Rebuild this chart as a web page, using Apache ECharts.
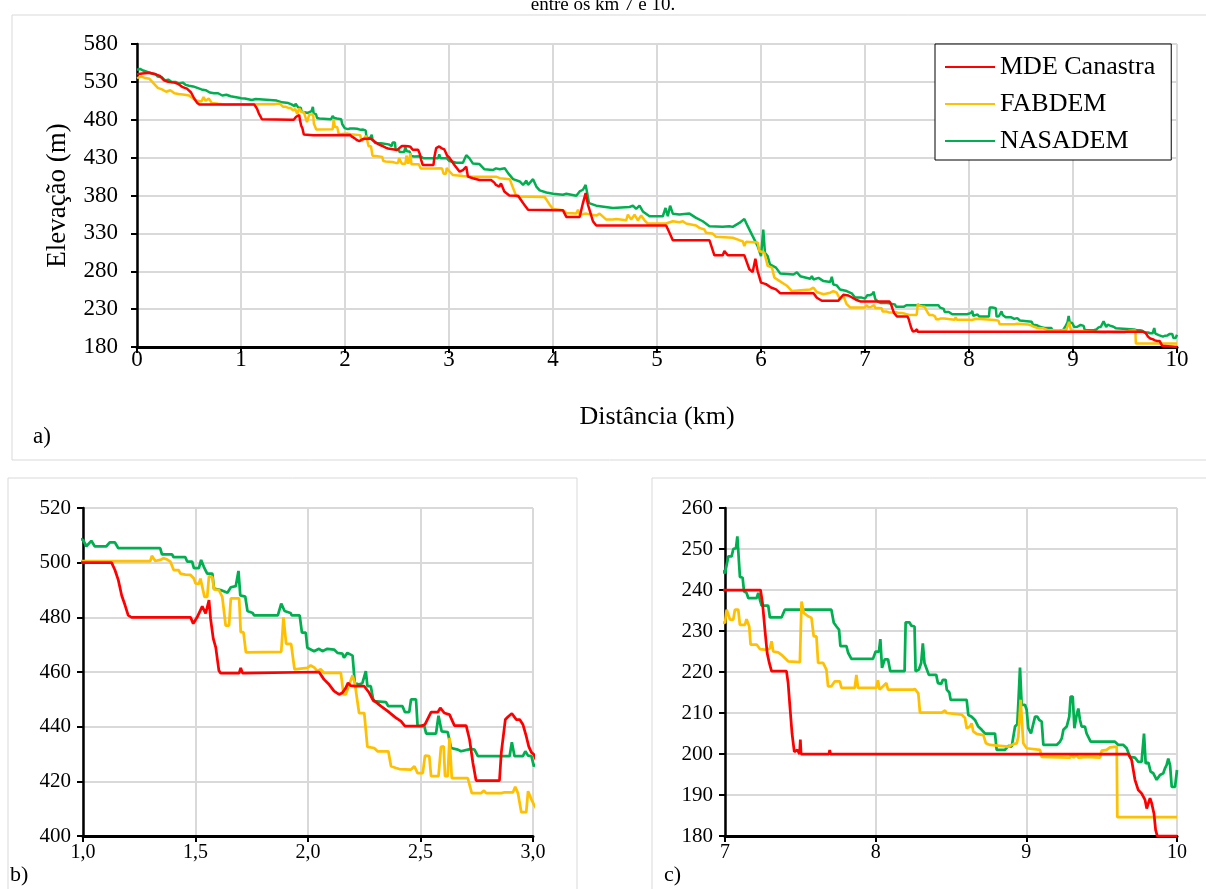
<!DOCTYPE html>
<html>
<head>
<meta charset="utf-8">
<script src="https://cdn.jsdelivr.net/npm/echarts@6/dist/echarts.min.js"></script>
<style>
  html, body { margin: 0; padding: 0; background: #fff; }
  #perfil { width: 1206px; height: 889px; }
</style>
</head>
<body>
<div id="perfil"></div>
<script>
// perfis de elevação [distância km, elevação m]
const mdeCanastra = [
  [0,540],[0.05,541],[0.12,542],[0.18,540],[0.22,538],[0.26,532],[0.3,530],[0.36,529],[0.4,527],[0.44,523],[0.48,521],[0.52,516],[0.55,508],[0.58,502],[0.6,500],[0.66,500],[0.67,502],[0.68,500],
  [1.127,500],[1.142,497.3],[1.157,493.6],[1.172,488],[1.187,484.4],[1.201,480.7],[1.216,480],[1.478,480],[1.49,477.7],[1.507,480],[1.53,484],[1.545,481.4],[1.56,486.3],[1.567,479.5],[1.579,472.2],[1.59,469],[1.604,460.5],[1.612,459.6],[1.694,459.6],[1.701,461.5],[1.709,459.6],
  [2.049,460],[2.071,457.3],[2.094,455.4],[2.116,453],[2.138,451.8],[2.153,452.4],[2.168,454.2],[2.178,456],[2.19,455],[2.212,454.8],[2.25,454.8],[2.272,452.4],[2.287,450],[2.324,447.5],[2.354,445.7],[2.391,443.2],[2.413,442],[2.431,440.2],[2.502,440.2],[2.52,440.8],[2.547,445.3],[2.577,445.3],[2.588,446.9],[2.606,445],[2.629,444.4],[2.651,440.4],[2.703,440.4],[2.718,435.3],[2.733,426.7],[2.747,420.3],[2.851,420.3],[2.859,430.4],[2.877,442.6],[2.889,443.6],[2.906,444.8],[2.926,442.6],[2.941,442.6],[2.955,440.8],[2.97,436.5],[2.981,432.8],[2.993,430.6],[3.004,429.8],
  [3.054,420],[3.102,411.4],[3.134,413.6],[3.166,418],[3.182,404.9],[3.229,402.7],[3.293,400.5],[3.404,400.5],[3.436,397],[3.452,394],[3.484,391.8],[3.5,396],[3.532,385.2],[3.58,380],[3.664,379.7],[3.712,370],[3.76,361.3],[4.096,360.4],[4.128,351.7],[4.256,351.7],[4.288,370],[4.314,383.2],[4.336,368],[4.384,346],[4.416,340.3],
  [5.088,340.3],[5.12,330.7],[5.152,321],[5.504,321],[5.552,301],[5.632,301],[5.648,306.7],[5.68,301],[5.84,301],[5.888,282.6],[5.92,279],[5.946,296.6],[5.968,280],[6.0,265],[6.048,263],[6.096,258.5],[6.144,256],[6.185,251],[6.505,251],[6.537,245],[6.585,241],[6.744,241],[6.76,244],[6.792,249],[6.84,248],[6.88,245],[6.92,242],[6.96,240],
  [7.236,240],[7.249,236.8],[7.265,230.3],[7.28,224.6],[7.294,222.2],[7.309,220.2],[7.408,220.2],[7.419,217.3],[7.43,212],[7.445,205],[7.46,200.5],[7.48,201],[7.495,200],[7.5,203.5],[7.505,200],[7.69,200],[7.695,201],[7.7,200],
  [9.677,200],[9.699,198.5],[9.721,193.7],[9.743,191.2],[9.765,190.4],[9.788,188.8],[9.799,186.7],[9.81,188],[9.821,189.2],[9.832,188],[9.847,185.5],[9.858,181.5],[9.869,180],[10,180]
];

const fabdem = [
  [0,535],[0.04,537],[0.08,535],[0.12,534],[0.16,528],[0.2,522],[0.24,520],[0.28,517],[0.32,519],[0.36,515],[0.4,514],[0.46,513],[0.5,512],[0.54,508],[0.58,505],[0.62,504],[0.64,510],[0.66,505],[0.69,508],[0.72,502],[0.78,501],[0.85,500],
  [1.0,500.6],[1.299,500.6],[1.306,502.5],[1.321,500.6],[1.343,501],[1.358,501.6],[1.373,501.2],[1.388,500.4],[1.403,497.3],[1.425,497.3],[1.433,496],[1.455,495.6],[1.478,495.5],[1.493,494.2],[1.5,492.4],[1.515,492.2],[1.522,494.2],[1.53,494.6],[1.54,487.5],[1.552,487.5],[1.56,495],[1.575,494.7],[1.582,490.2],[1.604,490],[1.619,487.5],[1.634,477],[1.649,477],[1.657,486.9],[1.694,486.9],[1.701,474.6],[1.713,474.6],[1.724,467.2],[1.881,467.4],[1.891,480],[1.903,470.3],[1.925,470.3],[1.94,461],[1.997,461.5],
  [2.012,462.4],[2.027,461.7],[2.042,460.3],[2.056,461],[2.071,459.7],[2.146,459.7],[2.158,451.8],[2.168,451.8],[2.183,455.4],[2.198,458.7],[2.208,456],[2.227,445],[2.25,445],[2.264,432.6],[2.294,432.2],[2.309,431],[2.357,431],[2.369,425.5],[2.391,424.9],[2.406,424.5],[2.458,424.3],[2.473,425.5],[2.487,423],[2.51,423],[2.52,429.4],[2.539,429.2],[2.547,421.9],[2.58,421.9],[2.591,432.6],[2.603,432.8],[2.609,421.9],[2.621,421.9],[2.629,435.9],[2.639,421.2],[2.71,421.2],[2.728,415.7],[2.77,415.7],[2.782,416.6],[2.792,415.7],[2.859,415.7],[2.874,416],[2.911,416],[2.921,418],[2.933,415.7],[2.941,415],[2.948,408.7],[2.97,408.7],[2.978,416.4],[2.993,413.4],[3.004,411.5],
  [3.038,407],[3.134,405.7],[3.229,404.9],[3.452,404.9],[3.488,402.9],[3.584,401.6],[3.616,389.8],[3.648,378.8],[3.92,378],[3.968,367.9],[4.0,362.2],[4.096,360.4],[4.128,357],[4.224,356.1],[4.24,361.3],[4.256,354.8],[4.32,356.1],[4.416,353.5],[4.448,356.1],[4.512,348.2],[4.576,348.2],[4.608,349.1],[4.704,347.3],[4.72,354.8],[4.752,348.2],[4.784,354.8],[4.816,347.3],[4.848,353.5],[4.88,347.3],[4.912,343],
  [5.088,343],[5.152,346],[5.216,344.7],[5.248,346],[5.28,343],[5.376,340.3],[5.408,337.3],[5.456,335.1],[5.472,330.7],[5.536,329.8],[5.568,325.5],[5.728,324.2],[5.792,321],[5.824,319.7],[5.84,313.2],[5.856,318.8],[5.968,317.9],[5.984,306.7],[6.032,304.5],[6.064,287],[6.106,284.8],[6.128,271.7],[6.176,267.3],[6.249,260.9],[6.297,253.9],[6.313,256],[6.473,256],[6.505,258.3],[6.537,252.6],[6.601,249.6],[6.665,251.7],[6.696,253.9],[6.728,251.7],[6.76,243],[6.792,247.4],[6.824,236.5],[6.856,232.2],[6.952,232.2],
  [7.0,232],[7.011,235.2],[7.022,235.6],[7.033,232.8],[7.055,232.8],[7.066,235.2],[7.088,235.2],[7.099,231.5],[7.132,231.5],[7.143,232.9],[7.161,231.1],[7.17,226.7],[7.21,226.7],[7.232,225.6],[7.276,225.4],[7.298,225.8],[7.309,227.5],[7.32,225],[7.353,224.8],[7.375,224.2],[7.397,223.4],[7.419,222.6],[7.497,222.4],[7.508,237.2],[7.523,234.4],[7.552,233.6],[7.574,233.2],[7.589,228.7],[7.607,228.7],[7.618,222.2],[7.651,222.2],[7.673,220.6],[7.684,216.5],[7.706,216.5],[7.728,217.7],[7.762,217.7],[7.773,216.1],[7.861,216.1],[7.872,219.3],[7.883,216.1],
  [8.004,216.1],[8.015,218],[8.026,215.7],[8.071,217.3],[8.082,215.7],[8.247,215.7],[8.261,215.8],[8.283,214.8],[8.294,210.1],[8.438,210.1],[8.46,210.6],[8.471,210],[8.571,209.6],[8.593,208.8],[8.604,206.3],[8.626,206.7],[8.637,207.5],[8.648,205.5],[8.67,204.9],[8.715,204.6],[8.732,202.6],[8.759,202.2],[8.825,202],[8.881,201.8],[8.914,202.4],[8.936,202.6],[8.947,204.2],[8.962,213.2],[8.98,202.6],
  [9.002,201.4],[9.091,201],[9.102,199.3],[9.29,199.1],[9.301,200.1],[9.312,199.1],[9.334,199.7],[9.345,199.1],[9.4,199.3],[9.489,199.1],[9.5,200.8],[9.533,201],[9.555,201.6],[9.6,201.8],[9.604,184.6],[10,184.6]
];

const nasadem = [
  [0,546],[0.03,547],[0.06,545],[0.1,543],[0.14,541],[0.18,540],[0.2,537],[0.24,536],[0.27,532],[0.3,533],[0.33,530],[0.37,530],[0.4,528],[0.44,529],[0.47,526],[0.5,525],[0.54,524],[0.58,522],[0.62,520],[0.66,519],[0.7,516],[0.74,515],[0.78,515],[0.82,512],[0.86,513],[0.9,511],[0.94,510],[0.98,509],
  [1.0,508.3],[1.015,506],[1.037,508],[1.052,506],[1.104,506],[1.119,507.4],[1.142,507.4],[1.157,505.3],[1.343,505.3],[1.351,503],[1.396,503],[1.403,502],[1.455,502],[1.463,500.4],[1.485,500.4],[1.493,498],[1.515,498],[1.525,501],[1.537,498.5],[1.552,496],[1.575,496],[1.582,490.5],[1.612,490],[1.642,489],[1.657,491],[1.679,491.4],[1.691,497],[1.699,488],[1.721,487.6],[1.731,482.3],[1.754,481.6],[1.761,480.7],[1.866,480.7],[1.881,485],[1.896,482.3],[1.922,481.6],[1.928,480.7],[1.963,480.7],[1.973,474.4],[1.99,474.4],[1.997,468.9],
  [2.027,467.6],[2.049,468.5],[2.064,467.6],[2.086,468.5],[2.116,468.2],[2.131,467],[2.153,466.7],[2.16,465.2],[2.175,467],[2.198,466],[2.208,456],[2.227,455.4],[2.242,456],[2.257,460.3],[2.264,454.8],[2.279,454.8],[2.291,449.3],[2.346,449],[2.357,447.5],[2.42,447.5],[2.431,445.3],[2.45,445.3],[2.458,450],[2.48,450],[2.487,440.4],[2.517,440.2],[2.525,437.5],[2.569,437.5],[2.58,444],[2.594,438.3],[2.621,438],[2.636,432.2],[2.666,431.6],[2.68,431],[2.725,431.9],[2.74,431.6],[2.755,429.2],[2.896,429.2],[2.906,434.3],[2.918,429.2],[2.955,429.2],[2.966,431],[2.978,429.4],[2.993,429.2],[3.004,425.5],
  [3.022,426.7],[3.07,423.2],[3.134,423.2],[3.15,421.5],[3.166,433.3],[3.197,429],[3.229,422.4],[3.293,421.5],[3.341,414.5],[3.42,413.6],[3.452,415.8],[3.488,414.7],[3.536,416],[3.568,409.5],[3.616,401.6],[3.68,398.5],[3.712,394],[3.744,399.7],[3.76,394],[3.776,391.8],[3.808,401.6],[3.84,391.8],[3.872,386.7],[3.936,384],[4.0,382.3],[4.096,381],[4.128,382.3],[4.224,379.7],[4.256,385.4],[4.288,387.6],[4.314,394],[4.326,385.4],[4.346,370],[4.416,366.6],[4.576,363.5],[4.736,364.8],[4.768,366.6],[4.8,362.2],[4.832,366.6],[4.864,359],[4.928,352.6],
  [5.056,352.6],[5.082,363.5],[5.104,352.6],[5.126,366.6],[5.152,356],[5.216,354.8],[5.312,356.1],[5.376,350.4],[5.44,346],[5.504,339.5],[5.632,338.6],[5.696,339.5],[5.728,338.6],[5.792,343.8],[5.84,349],[5.872,339.5],[5.92,326.3],[5.968,313.2],[6.0,300],[6.022,335],[6.038,304.5],[6.064,300],[6.086,289.2],[6.144,284.8],[6.185,277],[6.313,275.7],[6.345,278.7],[6.377,273.5],[6.473,270],[6.489,273.5],[6.505,269.1],[6.553,271.3],[6.601,267],[6.665,265.7],[6.681,272.6],[6.696,262.6],[6.728,261.3],[6.76,256],[6.824,253.9],[6.872,250.9],[6.904,245.2],[6.968,245.2],
  [7.0,244.1],[7.011,244.5],[7.022,248.2],[7.044,248.2],[7.055,250],[7.073,250.2],[7.082,253.1],[7.091,253.3],[7.099,243.2],[7.117,243],[7.126,239.7],[7.143,239.3],[7.155,238],[7.21,238],[7.221,239.3],[7.232,237.6],[7.243,236.2],[7.287,236.2],[7.298,233.3],[7.375,233.3],[7.397,235.2],[7.706,235.2],[7.722,232],[7.74,231.1],[7.757,230.3],[7.766,226.3],[7.806,226.3],[7.817,224.7],[7.839,223.2],[7.982,223.2],
  [8.0,225],[8.022,225],[8.031,228],[8.042,221],[8.06,223.1],[8.082,223.1],[8.097,220.2],[8.192,220.2],[8.199,232.1],[8.225,232.1],[8.236,231.3],[8.258,231.1],[8.265,220.2],[8.287,220.6],[8.302,222.2],[8.313,227],[8.324,222.2],[8.336,222],[8.353,219.3],[8.402,219.3],[8.413,217.3],[8.435,217.1],[8.446,218.1],[8.464,218.1],[8.472,215.7],[8.489,215],[8.498,213.2],[8.604,213.2],[8.615,209.5],[8.637,209.1],[8.659,208.3],[8.681,206.7],[8.704,205.9],[8.726,205],[8.792,205],[8.803,201],[8.858,201],[8.881,202],[8.903,201.8],[8.925,206.7],[8.94,207.3],[8.947,212.4],[8.958,221.1],[8.969,212],[8.991,212],
  [9.002,210.8],[9.013,206.3],[9.031,205],[9.042,206.7],[9.058,209.1],[9.073,209.1],[9.086,208.3],[9.102,207.9],[9.113,202.2],[9.201,202.2],[9.223,203],[9.235,203.8],[9.246,205.9],[9.268,206.7],[9.285,209.1],[9.294,214],[9.308,214],[9.319,206.3],[9.334,209.5],[9.345,211.1],[9.356,208.3],[9.367,206.7],[9.389,206.7],[9.4,205],[9.411,204.9],[9.427,203],[9.588,203],[9.611,202.2],[9.644,202.2],[9.666,201.4],[9.688,199.3],[9.721,199.1],[9.743,198.1],[9.765,198.1],[9.781,205],[9.792,197.7],[9.81,197.9],[9.825,195.7],[9.843,195.3],[9.865,193.7],[9.876,193.3],[9.887,194.9],[9.909,195.3],[9.92,196.5],[9.931,197.3],[9.942,198.9],[9.954,197.3],[9.965,192],[9.987,192],[10,196.1]
];

// marcas dos eixos
const kmTicksA = [0, 1, 2, 3, 4, 5, 6, 7, 8, 9, 10];
const elevTicksA = [180, 230, 280, 330, 380, 430, 480, 530, 580];
const kmTicksB = [1.0, 1.5, 2.0, 2.5, 3.0];
const elevTicksB = [400, 420, 440, 460, 480, 500, 520];
const kmTicksC = [7, 8, 9, 10];
const elevTicksC = [180, 190, 200, 210, 220, 230, 240, 250, 260];

const seriesNames = ['MDE Canastra', 'FABDEM', 'NASADEM'];
const seriesColors = ['#FF0000', '#FFC000', '#00B050'];
const seriesData = [mdeCanastra, fabdem, nasadem];

const FONT = '"Liberation Serif", "Times New Roman", serif';

const chart = echarts.init(document.getElementById('perfil'));

function xAxisFor(gridIndex, ticks, opts) {
  return Object.assign({
    gridIndex: gridIndex,
    type: 'value',
    min: ticks[0],
    max: ticks[ticks.length - 1],
    interval: ticks[1] - ticks[0],
    axisLine: {show: true, onZero: false, lineStyle: {color: '#000', width: 3}},
    axisTick: {show: true, length: 6, lineStyle: {color: '#000', width: 2}},
    axisLabel: {color: '#000', fontFamily: FONT, fontSize: 20, margin: 8},
    splitLine: {show: true, lineStyle: {color: '#D9D9D9', width: 2}}
  }, opts || {});
}

function yAxisFor(gridIndex, ticks, opts) {
  return Object.assign({
    gridIndex: gridIndex,
    type: 'value',
    min: ticks[0],
    max: ticks[ticks.length - 1],
    interval: ticks[1] - ticks[0],
    axisLine: {show: true, onZero: false, lineStyle: {color: '#000', width: 2.5}},
    axisTick: {show: true, length: 6, lineStyle: {color: '#000', width: 2}},
    axisLabel: {color: '#000', fontFamily: FONT, fontSize: 20, margin: 12},
    splitLine: {show: true, lineStyle: {color: '#D9D9D9', width: 2}}
  }, opts || {});
}

const series = [];
[0, 1, 2].forEach(g => {
  seriesData.forEach((d, i) => {
    series.push({
      name: seriesNames[i],
      type: 'line',
      xAxisIndex: g,
      yAxisIndex: g,
      data: d,
      showSymbol: false,
      symbol: 'none',
      color: seriesColors[i],
      lineStyle: {color: seriesColors[i], width: g === 0 ? 2.5 : 2.75},
      clip: true,
      z: 3 - i
    });
  });
});

const option = {
  animation: false,
  backgroundColor: '#fff',
  textStyle: {fontFamily: FONT},
  grid: [
    {left: 137, right: 29, top: 44, bottom: 542},
    {left: 83, right: 673, top: 508, bottom: 53},
    {left: 725, right: 29, top: 508, bottom: 53}
  ],
  xAxis: [
    xAxisFor(0, kmTicksA, {
      axisLabel: {color: '#000', fontFamily: FONT, fontSize: 23, margin: 1},
      name: 'Distância (km)', nameLocation: 'middle', nameGap: 57,
      nameTextStyle: {color: '#000', fontFamily: FONT, fontSize: 26}
    }),
    xAxisFor(1, kmTicksB, {
      axisLabel: {color: '#000', fontFamily: FONT, fontSize: 20, margin: 7,
        formatter: v => v.toFixed(1).replace('.', ',')}
    }),
    xAxisFor(2, kmTicksC, {axisLabel: {color: '#000', fontFamily: FONT, fontSize: 20, margin: 7}})
  ],
  yAxis: [
    yAxisFor(0, elevTicksA, {
      axisLabel: {color: '#000', fontFamily: FONT, fontSize: 23, margin: 19},
      name: 'Elevação (m)', nameLocation: 'middle', nameGap: 66,
      nameTextStyle: {color: '#000', fontFamily: FONT, fontSize: 27}
    }),
    yAxisFor(1, elevTicksB, {axisLabel: {color: '#000', fontFamily: FONT, fontSize: 21, margin: 12}}),
    yAxisFor(2, elevTicksC, {axisLabel: {color: '#000', fontFamily: FONT, fontSize: 21, margin: 12}})
  ],
  legend: {
    data: seriesNames,
    orient: 'vertical',
    left: 935,
    top: 44,
    padding: [10, 16, 6, 10],
    itemGap: 11,
    itemWidth: 50,
    itemHeight: 2,
    icon: 'rect',
    backgroundColor: '#fff',
    borderColor: '#000',
    borderWidth: 1,
    textStyle: {color: '#000', fontFamily: FONT, fontSize: 26}
  },
  graphic: [
    {type: 'rect', shape: {x: 12, y: 15, width: 1200, height: 445}, style: {fill: null, stroke: '#D9D9D9', lineWidth: 1}, silent: true},
    {type: 'rect', shape: {x: 8, y: 478, width: 569, height: 420}, style: {fill: null, stroke: '#D9D9D9', lineWidth: 1}, silent: true},
    {type: 'rect', shape: {x: 652, y: 478, width: 560, height: 420}, style: {fill: null, stroke: '#D9D9D9', lineWidth: 1}, silent: true},
    {type: 'text', left: 'center', top: -4, style: {text: 'entre os km 7 e 10.', font: '19px ' + FONT, fill: '#000'}},
    {type: 'text', left: 33, top: 425, style: {text: 'a)', font: '23px ' + FONT, fill: '#000'}},
    {type: 'text', left: 10, top: 864, style: {text: 'b)', font: '22px ' + FONT, fill: '#000'}},
    {type: 'text', left: 664, top: 864, style: {text: 'c)', font: '22px ' + FONT, fill: '#000'}}
  ],
  series: series
};

chart.setOption(option);
</script>
</body>
</html>
